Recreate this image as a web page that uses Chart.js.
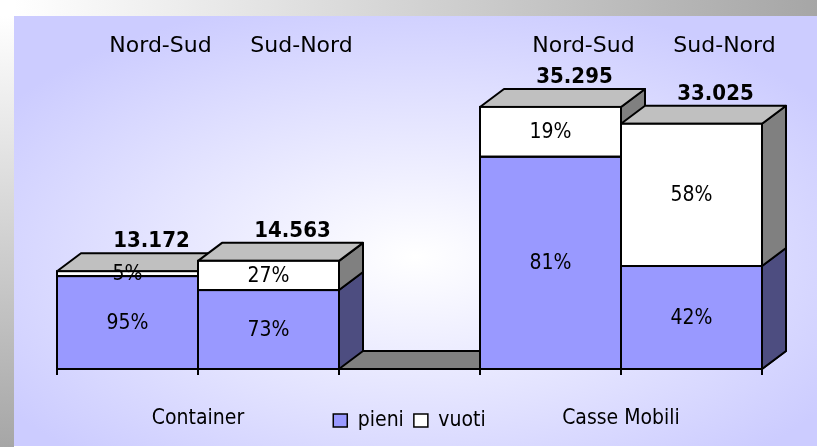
<!DOCTYPE html>
<html lang="it">
<head>
    <meta charset="UTF-8">
    <title>Container / Casse Mobili</title>
    <script src="https://cdn.jsdelivr.net/npm/chart.js"></script>
    <style>
        body {
            margin: 0;
            width: 817px;
            height: 447px;
            overflow: hidden;
            background: #ffffff;
            position: relative;
        }
        .shadow-top {
            position: absolute;
            left: 14px; top: 0;
            width: 803px; height: 16px;
            background: linear-gradient(to right, #ffffff, #a6a6a6);
        }
        .shadow-left {
            position: absolute;
            left: 0; top: 16px;
            width: 14px; height: 431px;
            background: linear-gradient(to bottom, #ffffff, #a6a6a6);
        }
        .panel {
            position: absolute;
            left: 14px; top: 16px;
            width: 803px; height: 430px;
            background: radial-gradient(ellipse 62% 62% at 50% 56%, #ffffff 0%, #ccccff 100%);
        }
        canvas {
            position: absolute;
            left: 0; top: 0;
        }
    </style>
</head>
<body>
    <div class="shadow-top"></div>
    <div class="shadow-left"></div>
    <div class="panel"></div>
    <canvas id="chart" width="817" height="447"></canvas>

    <script>
        // chart data
        const categories = ['Nord-Sud', 'Sud-Nord', '', 'Nord-Sud', 'Sud-Nord'];
        const groups = ['Container', 'Casse Mobili'];
        const groupMembers = [[0, 1], [3, 4]];
        const totals = [13172, 14563, null, 35295, 33025];
        const pieniPct = [95, 73, null, 81, 42];
        const vuotiPct = [5, 27, null, 19, 58];
        const seriesNames = ['pieni', 'vuoti'];

        // stacked segment sizes from totals and shares
        const pieni = totals.map((t, i) => t === null ? null : t * pieniPct[i] / 100);
        const vuoti = totals.map((t, i) => t === null ? null : t * vuotiPct[i] / 100);
        const pctLabels = [pieniPct, vuotiPct];

        const DX = 24, DY = 18; // 3d depth
        const condensed = "'DejaVu Sans Condensed', 'DejaVu Sans', sans-serif";

        function fmt(v) {
            return String(v).replace(/\B(?=(\d{3})+(?!\d))/g, '.');
        }

        function poly(ctx, pts, fill) {
            ctx.beginPath();
            ctx.moveTo(pts[0][0], pts[0][1]);
            for (let k = 1; k < pts.length; k++) ctx.lineTo(pts[k][0], pts[k][1]);
            ctx.closePath();
            ctx.fillStyle = fill;
            ctx.fill();
            ctx.stroke();
        }

        const bar3d = {
            id: 'bar3d',
            beforeDatasetsDraw(chart) {
                const ctx = chart.ctx;
                const xs = chart.scales.x, ys = chart.scales.y;
                const metas = chart.getSortedVisibleDatasetMetas();
                const base = ys.getPixelForValue(0);
                ctx.save();
                ctx.strokeStyle = '#000';
                ctx.lineWidth = 2;
                ctx.lineJoin = 'round';
                // floor
                poly(ctx, [[xs.left, base], [xs.right, base], [xs.right + DX, base - DY], [xs.left + DX, base - DY]], '#808080');

                // total labels (drawn behind the bar tops)
                ctx.fillStyle = '#000';
                ctx.font = "bold 22px " + condensed;
                ctx.textAlign = 'center';
                ctx.textBaseline = 'middle';
                categories.forEach((c, i) => {
                    if (totals[i] === null) return;
                    const topEl = metas[metas.length - 1].data[i];
                    ctx.fillText(fmt(totals[i]), topEl.x + DX, topEl.y - 30);
                });

                // side and top faces, left to right
                categories.forEach((c, i) => {
                    if (totals[i] === null) return;
                    metas.forEach((meta, d) => {
                        const el = meta.data[i];
                        const r = el.x + el.width / 2;
                        const ds = chart.data.datasets[d];
                        poly(ctx, [[r, el.base], [r, el.y], [r + DX, el.y - DY], [r + DX, el.base - DY]], ds.sideColor);
                    });
                    const d = metas.length - 1;
                    const el = metas[d].data[i];
                    const l = el.x - el.width / 2, r = el.x + el.width / 2;
                    poly(ctx, [[l, el.y], [r, el.y], [r + DX, el.y - DY], [l + DX, el.y - DY]], chart.data.datasets[d].topColor);
                });
                ctx.restore();
            },
            afterDatasetsDraw(chart) {
                const ctx = chart.ctx;
                const metas = chart.getSortedVisibleDatasetMetas();
                ctx.save();
                ctx.strokeStyle = '#000';
                ctx.lineWidth = 2;
                categories.forEach((c, i) => {
                    if (totals[i] === null) return;
                    metas.forEach(meta => {
                        const el = meta.data[i];
                        ctx.strokeRect(el.x - el.width / 2, el.y, el.width, el.base - el.y);
                    });
                });
                // percentage labels
                ctx.fillStyle = '#000';
                ctx.font = "21px " + condensed;
                ctx.textAlign = 'center';
                ctx.textBaseline = 'middle';
                categories.forEach((c, i) => {
                    if (totals[i] === null) return;
                    metas.forEach((meta, d) => {
                        const el = meta.data[i];
                        ctx.fillText(pctLabels[d][i] + '%', el.x, (el.y + el.base) / 2 + 1);
                    });
                });
                ctx.restore();
            },
            afterDraw(chart) {
                const ctx = chart.ctx;
                const xs = chart.scales.x;
                ctx.save();
                ctx.fillStyle = '#000';
                ctx.textAlign = 'center';
                // direction labels on top
                ctx.font = "22px 'DejaVu Sans', sans-serif";
                ctx.textBaseline = 'alphabetic';
                categories.forEach((c, i) => {
                    if (!c) return;
                    ctx.fillText(c, xs.getPixelForValue(i) + 33, 52);
                });
                // group labels at the bottom
                ctx.font = "21px " + condensed;
                ctx.textBaseline = 'middle';
                groups.forEach((g, k) => {
                    const m = groupMembers[k];
                    const cx = (xs.getPixelForValue(m[0]) + xs.getPixelForValue(m[m.length - 1])) / 2;
                    ctx.fillText(g, cx, 419);
                });
                ctx.restore();
            }
        };

        const ctx = document.getElementById('chart').getContext('2d');
        new Chart(ctx, {
            type: 'bar',
            data: {
                labels: categories,
                datasets: [
                    {
                        label: seriesNames[0],
                        data: pieni,
                        backgroundColor: '#9999ff',
                        sideColor: '#4d4d80',
                        topColor: '#7373bf',
                        borderWidth: 0
                    },
                    {
                        label: seriesNames[1],
                        data: vuoti,
                        backgroundColor: '#ffffff',
                        sideColor: '#808080',
                        topColor: '#c0c0c0',
                        borderWidth: 0
                    }
                ]
            },
            options: {
                responsive: false,
                animation: false,
                layout: { padding: { left: 57, right: 55, top: 72, bottom: 6 } },
                datasets: { bar: { barPercentage: 1, categoryPercentage: 1 } },
                scales: {
                    x: {
                        stacked: true,
                        grid: { offset: true, drawOnChartArea: false, color: '#000', lineWidth: 2, tickLength: 6 },
                        border: { color: '#000', width: 2 },
                        ticks: { display: false },
                        afterFit(scale) { scale.height = 31; }
                    },
                    y: { stacked: true, display: false, min: 0, max: 40000 }
                },
                plugins: {
                    tooltip: { enabled: false },
                    legend: {
                        position: 'bottom',
                        labels: {
                            color: '#000',
                            boxWidth: 14,
                            boxHeight: 13,
                            padding: 10,
                            font: { size: 21, family: condensed },
                            generateLabels(chart) {
                                return Chart.defaults.plugins.legend.labels.generateLabels(chart)
                                    .map(item => Object.assign(item, { strokeStyle: '#000', lineWidth: 1.5 }));
                            }
                        }
                    }
                }
            },
            plugins: [bar3d]
        });
    </script>
</body>
</html>
